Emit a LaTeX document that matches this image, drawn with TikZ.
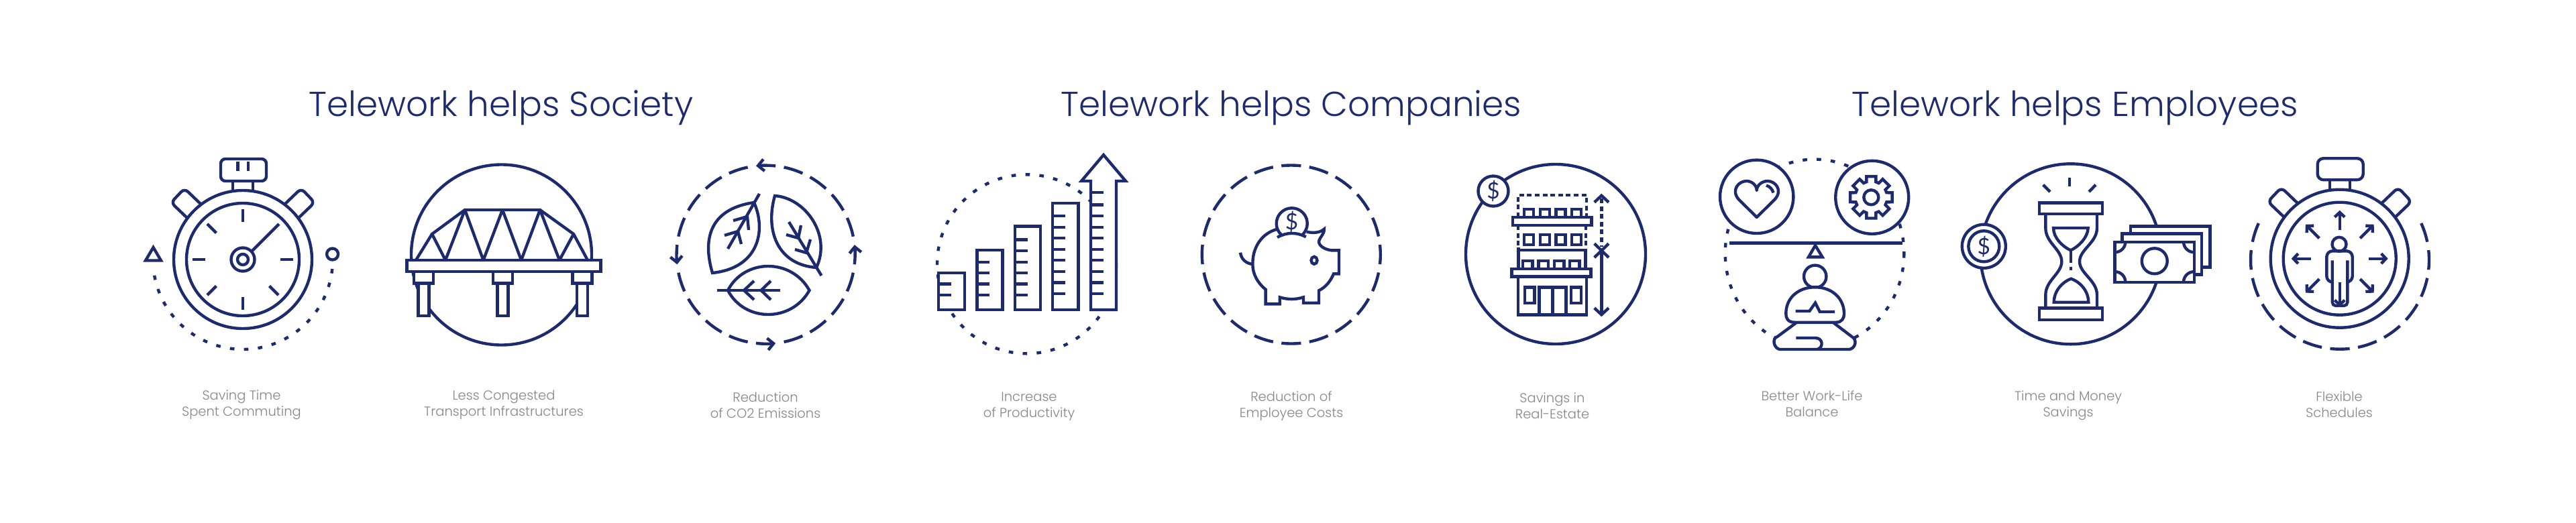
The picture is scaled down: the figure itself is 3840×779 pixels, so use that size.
\documentclass[tikz,border=0pt]{standalone}
\usepackage{fontspec}
\setmainfont{Poppins}[UprightFont=* Light]
\newfontfamily\dollarfont{Lato}
\usetikzlibrary{arrows.meta,calc}
\definecolor{navy}{HTML}{1E2A6E}
\definecolor{capgray}{HTML}{868686}
\tikzset{
  ln/.style={draw=navy,line width=2.5pt,line cap=butt,line join=miter},
  wf/.style={ln,fill=white},
  dots/.style={ln,dash pattern=on 3.8pt off 8.1pt},
  dsh/.style={ln,dash pattern=on 4pt off 2.6pt},
  barb/.style={-{Straight Barb[length=5pt,width=10pt,line width=2.5pt]}},
  smallbarb/.style={-{Straight Barb[length=4pt,width=8.5pt,line width=2.5pt]}},
  headtext/.style={text=navy,font=\fontsize{29.4}{32}\selectfont,anchor=base},
  captext/.style={text=capgray,font=\fontsize{11.1}{13.6}\selectfont,align=center,anchor=center},
  dollar/.style={text=navy,inner sep=0pt,font=\dollarfont\fontsize{19}{19}\selectfont}
}
\newcommand\ringdash[3]{\foreach \a in {#3} {\draw[ln] (#1) ++({\a-6.3}:#2) arc[start angle=\a-6.3,delta angle=12.6,radius=#2];}}
\newcommand\ringarrow[3]{\foreach \a in {#3} {\draw[ln,barb] (#1) ++({\a+6.3}:#2) arc[start angle=\a+6.3,delta angle=-12.6,radius=#2];}}
\newcommand\barticks[2]{\foreach \y in {#2} {\draw[ln] (#1,\y) -- (#1+18.5,\y);}}
\newcommand\watchcase{%
  \draw[ln] (0,0) circle[radius=103];
  \draw[ln] (0,0) circle[radius=84];
  \draw[ln] (-15,-102) -- (-15,-118) (15,-102) -- (15,-118);
  \draw[ln,rounded corners=4pt] (-83,-62) -- (-107,-85) -- (-87,-106) -- (-62,-82);
  \draw[ln,rounded corners=4pt] (83,-62) -- (107,-85) -- (87,-106) -- (62,-82);
}
\begin{document}
\begin{tikzpicture}[x=0.02cm,y=0.02cm,yscale=-1]
\useasboundingbox (0,0) rectangle (3840,779);
%% titles
\node[headtext] (t1) at (747,173) {Telework helps Society};
\node[headtext] (t2) at (1925,173) {Telework helps Companies};
\node[headtext] (t3) at (3093,173) {Telework helps Employees};
%% captions
\node[captext] (c1) at (360,604) {Saving Time\\Spent Commuting};
\node[captext] (c2) at (751,604) {Less Congested\\Transport Infrastructures};
\node[captext] (c3) at (1141,604) {Reduction\\of CO2 Emissions};
\node[captext] (c4) at (1534,606) {Increase\\of Productivity};
\node[captext] (c5) at (1925,606) {Reduction of\\Employee Costs};
\node[captext] (c6) at (2314,605) {Savings in\\Real-Estate};
\node[captext] (c7) at (2701,602) {Better Work-Life\\Balance};
\node[captext] (c8) at (3083,605) {Time and Money\\Savings};
\node[captext] (c9) at (3487,603) {Flexible\\Schedules};

%% icon 1: stopwatch
\begin{scope}[shift={(362,387)}]
  \watchcase
  \draw[ln,rounded corners=4pt] (-33,-117) -- (-33,-150) -- (35,-150) -- (35,-117) -- cycle;
  \draw[ln] (-7.5,-146) -- (-7.5,-132) (8,-146) -- (8,-132);
  \draw[ln] (0,0) circle[radius=17.5];
  \draw[ln] (0,0) circle[radius=8];
  \foreach \a in {-90,-135,180,135,90,45,0} {\draw[ln] (\a:56) -- (\a:75);}
  \draw[ln] (14,-13) -- (54,-53);
  \draw[dots] (6:134) arc[start angle=6,end angle=175,radius=134];
  \draw[ln] (-133.5,-18) -- (-122,1.5) -- (-145,1.5) -- cycle;
  \draw[ln] (133.6,-8) circle[radius=8.5];
\end{scope}

%% icon 2: bridge
\draw[ln] (747.5,380) circle[radius=134.5];
\draw[ln,line join=round] (620,388) -- (644,349) -- (693,313) -- (805,313) -- (855,349) -- (876,388);
\draw[ln,line join=round] (644,349) -- (664,388) -- (693,313) -- (720.5,388) -- (749,313) -- (777,388) -- (805,313) -- (834,388) -- (855,349);
\foreach \x in {631.5,749.5,868} {
  \draw[wf] (\x-8,422.5) rectangle (\x+8,471);
  \draw[wf] (\x-14.5,405) rectangle (\x+14.5,422.5);
}
\draw[wf] (606.5,388) rectangle (895.5,405);

%% icon 3: leaves
\coordinate (r3) at (1141.6,379.7);
\ringdash{r3}{133}{18,36,54,72,108,126,144,162,198,216,234,252,288,306,324,342}
\ringarrow{r3}{133}{0,90,180,270}
\draw[ln] (1062,407) .. controls (1048,360) and (1055,312) .. (1124,302) .. controls (1143,345) and (1130,400) .. (1062,407) -- cycle;
\draw[ln] (1132,289) -- (1085,371);
\draw[ln] (1093,329) -- (1114,323) -- (1116,343);
\draw[ln] (1080,351) -- (1100,345) -- (1105,364);
\draw[ln] (1155,292) .. controls (1140,345) and (1160,395) .. (1217,399) .. controls (1240,350) and (1200,295) .. (1155,292) -- cycle;
\draw[ln] (1176,331) -- (1224.5,411);
\draw[ln] (1194,336) -- (1190,355) -- (1172,350);
\draw[ln] (1208,357) -- (1202,377) -- (1185,372);
\draw[ln] (1085,433) .. controls (1110,385) and (1180,385) .. (1206.5,433) .. controls (1180,481) and (1110,481) .. (1085,433) -- cycle;
\draw[ln] (1069,433) -- (1163,433);
\draw[ln] (1124,419) -- (1109,433) -- (1124,447);
\draw[ln] (1149,419) -- (1134.5,433) -- (1149,447);

%% icon 4: bars
\draw[dots] (1530.5,393.8) circle[radius=133.5];
\draw[wf] (1399,407) rectangle (1438,462);
\barticks{1399}{423.3,440}
\draw[wf] (1456.5,373) rectangle (1494.5,462);
\barticks{1456.5}{390.7,407,423.3,440}
\draw[wf] (1513,337.5) rectangle (1551,462);
\barticks{1513}{357.3,374,390.7,407,423.3,440}
\draw[wf] (1569,303) rectangle (1607.5,462);
\barticks{1569}{322,338.7,355,371.7,388,404.7,421.3,438}
\draw[wf] (1626,462) -- (1626,270) -- (1612,270) -- (1645,231) -- (1678,270) -- (1664,270) -- (1664,462) -- cycle;
\barticks{1626}{287,305.3,322,338.7,355,371.7,388,404.7,421.3,438}

%% icon 5: piggy bank
\coordinate (r5) at (1924.8,379.5);
\ringdash{r5}{133}{0,18,...,342}
\draw[ln] (1904,341.7) .. controls (1880,348) and (1867,370) .. (1867.4,393.3) .. controls (1867,410) and (1876,423) .. (1886.6,431.7) -- (1886.6,453.3) -- (1907.7,453.3) -- (1907.7,443.3) .. controls (1920,447) and (1931,447) .. (1943,443.3) -- (1943,451.7) -- (1966,451.7) -- (1966,433.3) .. controls (1977,428) and (1984,418) .. (1988,408.3) -- (1996,408.3) -- (1996,373.3) -- (1984.4,373.3) .. controls (1975,372) and (1966,367) .. (1966,360) .. controls (1968,352) and (1974,350) .. (1973.8,341.7) .. controls (1968,347) and (1958,348) .. (1947.7,345.7);
\draw[ln] (1849,376.7) .. controls (1850,386) and (1857,393) .. (1867.4,394);
\draw[ln] (1959,388.3) circle[x radius=4.5,y radius=5.5];
\draw[ln] (1925.7,333.3) ++(133:23) arc[start angle=133,end angle=407,radius=23];
\draw[ln] (1904,354) .. controls (1918,346) and (1933,346) .. (1946.8,353.3);
\node[dollar] (d5) at (1925.5,331) {\$};

%% icon 6: building
\draw[ln] (2319,379) circle[radius=134];
\draw[wf] (2226,285) circle[radius=22.5];
\node[dollar] (d6) at (2226,285) {\$};
\draw[dsh] (2263,324) -- (2263,291) -- (2365,291) -- (2365,324);
\draw[dsh] (2263,336) -- (2263,368) (2364,336) -- (2364,368);
\foreach \x in {2272,2296,2319.5,2343} {
  \draw[ln] (\x,324) -- (\x,312) -- (\x+14,312) -- (\x+14,324);
  \draw[ln] (\x,350) rectangle (\x+14,365);
}
\draw[wf] (2255,324) rectangle (2372.5,335.7);
\draw[ln] (2263.3,369) -- (2263.3,401) (2363.5,371) -- (2363.5,401);
\draw[ln] (2263.3,372.7) -- (2363.5,372.7);
\foreach \x in {2270,2293.5,2317,2340} {
  \draw[ln] (\x,400) -- (\x,389) -- (\x+14.5,389) -- (\x+14.5,400);
}
\draw[wf] (2253.5,400.7) rectangle (2371.5,412.3);
\draw[ln] (2263,412.3) -- (2263,469.3) -- (2365,469.3) -- (2365,412.3);
\draw[ln] (2272.7,428.5) rectangle (2287.3,451.7);
\draw[ln] (2341.7,428.5) rectangle (2356.7,451.7);
\draw[ln] (2294.5,469) -- (2294.5,428.5) -- (2334.3,428.5) -- (2334.3,469);
\draw[ln] (2314.3,428.5) -- (2314.3,469);
\draw[ln] (2376.7,301.7) -- (2387.3,291.7) -- (2398,301.7);
\draw[dsh] (2387.3,296) -- (2387.3,368);
\draw[ln] (2376.7,363.3) -- (2398,384);
\draw[ln] (2398,363.3) -- (2376.7,384);
\draw[ln] (2387.3,373.3) -- (2387.3,468);
\draw[ln] (2376.7,459.3) -- (2387.3,469.3) -- (2398,459.3);

%% icon 7: balance
\draw[dots] (2705,378) ellipse[x radius=133.3,y radius=140.4];
\draw[wf] (2618.7,293.3) circle[radius=54.7];
\draw[wf] (2790.7,294.3) circle[radius=54.5];
\draw[ln,line join=round] (2618.7,324) -- (2591.5,297) .. controls (2580,283) and (2592,270) .. (2603.5,270) .. controls (2611,270) and (2618.7,276) .. (2618.7,284) .. controls (2618.7,276) and (2627,270) .. (2635,270) .. controls (2646,270) and (2658,283) .. (2646,297) -- cycle;
\draw[ln] (2633,276.5) .. controls (2638,278) and (2642,282) .. (2643.5,287.5);
\coordinate (g) at (2789.3,294.3);
\draw[ln] (g) circle[radius=11];
\draw[ln] ($(g)+(17:24)$) \foreach \a in {45,90,...,360} { -- ($(g)+({\a-17}:24)$) -- ($(g)+({\a-12.6}:32)$) -- ($(g)+({\a+12.6}:32)$) -- ($(g)+({\a+17}:24)$) } -- cycle;
\draw[wf] (2578,362.3) -- (2836,362.3);
\draw[ln,fill=white] (2706,366) -- (2716.5,383.3) -- (2696,383.3) -- cycle;
\draw[wf] (2705.7,412.3) circle[radius=16.7];
\draw[wf,line join=round] (2653,521) .. controls (2645,520) and (2640,505) .. (2650,501.7) -- (2678,481) -- (2732.7,481) -- (2760,501.7) .. controls (2770,507) and (2765,520) .. (2756.7,521) -- cycle;
\draw[wf] (2675,480.7) .. controls (2665,480.7) and (2662,474) .. (2662.3,468) .. controls (2662,445) and (2680,428.3) .. (2705.7,428.3) .. controls (2731,428.3) and (2749,445) .. (2749,468) .. controls (2749,474) and (2746,480.7) .. (2737,480.7) -- cycle;
\draw[ln] (2676.7,464) -- (2697.3,464) -- (2706,451.7) -- (2712.7,465) -- (2735,465);
\draw[ln] (2677.3,504) -- (2706,504) .. controls (2718,504) and (2718,518) .. (2710,520.5);

%% icon 8: time and money
\draw[ln] (3086.7,378.8) circle[radius=134.5];
\draw[wf] (2957.3,367.3) circle[radius=32.5];
\draw[ln] (2957.3,367.3) circle[radius=23];
\node[dollar] (d8) at (2957.3,367.3) {\$};
\draw[ln] (3085,265) -- (3085,278.3);
\draw[ln] (3045.7,275.7) -- (3056,286);
\draw[ln] (3124,275.7) -- (3114,286);
\draw[ln] (3040,302.3) rectangle (3134,319);
\draw[ln] (3040,459.3) rectangle (3134,476.7);
\draw[ln] (3049.3,319) -- (3049.3,340) .. controls (3049.3,362) and (3073.3,372) .. (3073.3,390) .. controls (3073.3,408) and (3049.3,418) .. (3049.3,440) -- (3049.3,459.3);
\draw[ln] (3126,319) -- (3126,340) .. controls (3126,362) and (3100,372) .. (3100,390) .. controls (3100,408) and (3126,418) .. (3126,440) -- (3126,459.3);
\draw[ln] (3061,340) -- (3112.7,340) .. controls (3112,355) and (3098,368) .. (3086.7,373.3) .. controls (3075,368) and (3061,355) .. (3061,340) -- cycle;
\draw[ln] (3061.7,450.7) -- (3113.3,450.7) .. controls (3113,433) and (3100,420) .. (3087.3,415.7) .. controls (3075,420) and (3062,433) .. (3061.7,450.7) -- cycle;
\draw[ln] (3086.7,375) -- (3086.7,391.7);
\draw[ln] (3086.7,398) -- (3086.7,402.7);
\draw[wf] (3176,337.3) rectangle (3294.3,398.3);
\draw[wf] (3163.3,348.3) rectangle (3281.7,409.3);
\draw[wf] (3152.3,360.7) rectangle (3270.7,420.7);
\draw[ln] (3211.7,389.3) circle[radius=19];
\draw[ln] (3168.3,360.7) arc[start angle=0,end angle=90,radius=15.5];
\draw[ln] (3255,360.7) arc[start angle=180,end angle=90,radius=15.5];
\draw[ln] (3168.3,420.7) arc[start angle=0,end angle=-90,radius=15.5];
\draw[ln] (3255,420.7) arc[start angle=180,end angle=270,radius=15.5];

%% icon 9: flexible schedules
\coordinate (r9) at (3488,387.7);
\ringdash{r9}{133}{-18,0,18,...,198}
\begin{scope}[shift={(3487.7,385.7)}]
  \watchcase
  \draw[ln,rounded corners=5pt] (-33,-117.5) -- (-33,-149.5) -- (35,-149.5) -- (35,-117.5) -- cycle;
  \foreach \a in {-90,-135,180,135,90,45,0,-45} {\draw[ln,smallbarb] (\a:43) -- (\a:72);}
  \draw[ln] (-0.7,-21.4) circle[radius=10.5];
  \draw[ln,rounded corners=5pt] (-11,35) -- (-19.4,35) -- (-19.4,-11.4) -- (19,-11.4) -- (19,35) -- (11.6,35);
  \draw[ln,rounded corners=3pt] (-11,2.6) -- (-11,70.3) -- (0,70.3);
  \draw[ln,rounded corners=3pt] (11.6,2.6) -- (11.6,70.3) -- (0,70.3);
  \draw[ln] (0,35) -- (0,70.3);
\end{scope}
\end{tikzpicture}
\end{document}
